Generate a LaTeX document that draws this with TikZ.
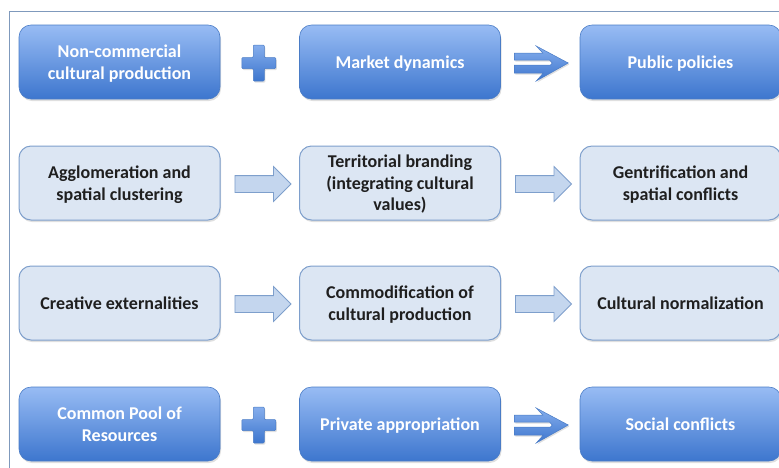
\documentclass[tikz,border=0pt]{standalone}
\usepackage{fontspec}
\setmainfont{Carlito}
\usetikzlibrary{shapes.arrows,shadows,calc}

\definecolor{boxtop}{HTML}{98BCF4}
\definecolor{boxbot}{HTML}{3D76CE}
\definecolor{boxline}{HTML}{4A7CC6}
\definecolor{palefill}{HTML}{DCE6F3}
\definecolor{paleline}{HTML}{7E9FCC}
\definecolor{arrowfill}{HTML}{C4D6EE}
\definecolor{framecol}{HTML}{7F99BC}

\tikzset{
  basebox/.style={rounded corners=12pt, minimum width=201pt, minimum height=74pt,
    align=center, font=\fontsize{18}{21.5}\selectfont\bfseries, text depth=0pt,
    drop shadow={shadow xshift=1pt, shadow yshift=-2pt, opacity=0.25}},
  darkbox/.style={basebox, top color=boxtop, bottom color=boxbot, draw=boxline,
    line width=0.6pt, text=white},
  palebox/.style={basebox, fill=palefill, draw=paleline, line width=1pt, text=black!88},
  blockarrow/.style={single arrow, draw=paleline, fill=arrowfill, line width=0.8pt,
    minimum height=56pt, minimum width=34pt, inner sep=8pt,
    single arrow head extend=9pt},
  signfill/.style={top color=boxtop!80!boxbot, bottom color=boxbot, draw=boxline,
    line width=0.5pt, drop shadow={shadow xshift=1pt, shadow yshift=-1.5pt, opacity=0.25}}
}

\begin{document}
\begin{tikzpicture}[x=1pt,y=-1pt]
  \useasboundingbox (0,0) rectangle (779,467);
  \clip (0,0) rectangle (779,467);
  \draw[framecol, line width=0.8pt] (9,480) -- (9,11) -- (790,11);

  % row 1
  \node[darkbox] (a1) at (119.5,62) {Non-commercial\\cultural production};
  \node[darkbox] (b1) at (400,62) {Market dynamics};
  \node[darkbox] (c1) at (680.5,62) {Public policies};
  % row 2
  \node[palebox] (a2) at (119.5,183) {Agglomeration and\\spatial clustering};
  \node[palebox] (b2) at (400,183) {Territorial branding\\(integrating cultural\\values)};
  \node[palebox] (c2) at (680.5,183) {Gentrification and\\spatial conflicts};
  % row 3
  \node[palebox] (a3) at (119.5,303) {Creative externalities};
  \node[palebox] (b3) at (400,303) {Commodification of\\cultural production};
  \node[palebox] (c3) at (680.5,303) {Cultural normalization};
  % row 4
  \node[darkbox] (a4) at (119.5,424) {Common Pool of\\Resources};
  \node[darkbox] (b4) at (400,424) {Private appropriation};
  \node[darkbox] (c4) at (680.5,424) {Social conflicts};

  % block arrows
  \foreach \r in {2,3} {
    \node[blockarrow] (p\r) at ($(a\r.east)!0.5!(b\r.west)+(-1,1)$) {};
    \node[blockarrow] (q\r) at ($(b\r.east)!0.5!(c\r.west)+(-1,1)$) {};
  }

  % plus signs and double arrows
  \foreach \r in {1,4} {
    \coordinate (m\r) at ($(a\r.east)!0.5!(b\r.west)+(-1,1)$);
    \coordinate (n\r) at ($(b\r.east)!0.5!(c\r.west)+(0,1)$);
    \path[signfill, rounded corners=1pt, shift={(m\r)}]
      (-5.5,-18) -- (5.5,-18) -- (5.5,-5.5) -- (17,-5.5) -- (17,5.5) -- (5.5,5.5)
      -- (5.5,18) -- (-5.5,18) -- (-5.5,5.5) -- (-17,5.5) -- (-17,-5.5)
      -- (-5.5,-5.5) -- cycle;
    \path[signfill, shift={(n\r)}]
      (-26,-10) -- (2.6,-10) -- (-4,-17) -- (28,0) -- (-4,18) -- (3.1,10)
      -- (-26,10) -- (-26,2) -- (10.2,2) -- (12,0) -- (9.2,-3) -- (-26,-3) -- cycle;
  }
\end{tikzpicture}
\end{document}
